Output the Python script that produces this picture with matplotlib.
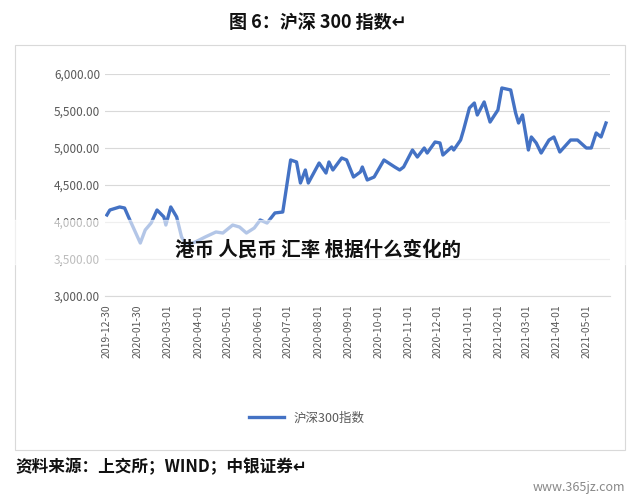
import matplotlib
matplotlib.use("Agg")
import matplotlib.pyplot as plt
import pandas as pd
from matplotlib.patches import Rectangle

plt.rcParams['font.family'] = ['Noto Sans CJK SC', 'DejaVu Sans']

dates = ["2019-12-30", "2020-01-02", "2020-01-12", "2020-01-17", "2020-01-21", "2020-02-02",
         "2020-02-07", "2020-02-13", "2020-02-19", "2020-02-26", "2020-02-28", "2020-03-04",
         "2020-03-10", "2020-03-15", "2020-03-20", "2020-03-29", "2020-04-08", "2020-04-19",
         "2020-04-26", "2020-05-06", "2020-05-13", "2020-05-20", "2020-05-28", "2020-06-03",
         "2020-06-10", "2020-06-18", "2020-06-26", "2020-07-04", "2020-07-10", "2020-07-14",
         "2020-07-19", "2020-07-22", "2020-08-02", "2020-08-09", "2020-08-12", "2020-08-16",
         "2020-08-25", "2020-08-30", "2020-09-06", "2020-09-13", "2020-09-15", "2020-09-20",
         "2020-09-27", "2020-10-07", "2020-10-18", "2020-10-23", "2020-10-27", "2020-11-05",
         "2020-11-10", "2020-11-17", "2020-11-20", "2020-11-28", "2020-12-03", "2020-12-06",
         "2020-12-15", "2020-12-17", "2020-12-24", "2020-12-27", "2021-01-02", "2021-01-07",
         "2021-01-10", "2021-01-17", "2021-01-23", "2021-01-31", "2021-02-04", "2021-02-13",
         "2021-02-18", "2021-02-21", "2021-02-25", "2021-03-03", "2021-03-06", "2021-03-11",
         "2021-03-16", "2021-03-24", "2021-03-29", "2021-04-04", "2021-04-15", "2021-04-22",
         "2021-05-01", "2021-05-06", "2021-05-11", "2021-05-16", "2021-05-21"]
hs300 = [4095, 4162, 4203, 4189, 4068, 3716,
         3892, 3986, 4162, 4068, 3959, 4203,
         4068, 3797, 3690, 3730, 3797, 3865,
         3851, 3959, 3932, 3851, 3919, 4027,
         3986, 4122, 4135, 4838, 4811, 4527,
         4703, 4527, 4797, 4662, 4811, 4703,
         4865, 4838, 4608, 4676, 4743, 4568,
         4608, 4838, 4743, 4703, 4743, 4973,
         4878, 5000, 4932, 5081, 5068, 4905,
         5014, 4973, 5108, 5243, 5541, 5608,
         5446, 5622, 5351, 5514, 5811, 5784,
         5473, 5338, 5446, 4973, 5149, 5068,
         4932, 5108, 5149, 4946, 5108, 5108,
         5000, 5000, 5203, 5149, 5338]
tick_dates = ["2019-12-30", "2020-01-30", "2020-03-01", "2020-04-01", "2020-05-01", "2020-06-01",
              "2020-07-01", "2020-08-01", "2020-09-01", "2020-10-01", "2020-11-01", "2020-12-01",
              "2021-01-01", "2021-02-01", "2021-03-01", "2021-04-01", "2021-05-01"]
y_ticks = [3000, 3500, 4000, 4500, 5000, 5500, 6000]

fig = plt.figure(figsize=(6.36, 5.0), dpi=100)
ax = fig.add_axes([0.165, 0.408, 0.794, 0.444])

x = pd.to_datetime(dates)
ax.plot(x, hs300, color='#4472C4', lw=2.4, label='沪深300指数')

ax.set_ylim(3000, 6000)
ax.set_yticks(y_ticks)
ax.set_yticklabels([f"{v:,.2f}" for v in y_ticks])
ax.set_xlim(pd.Timestamp("2019-12-28"), pd.Timestamp("2021-05-25"))
ax.set_xticks(pd.to_datetime(tick_dates))
ax.set_xticklabels(tick_dates, rotation=90)
ax.tick_params(axis='both', length=0, colors='#595959', labelsize=8.5)
ax.tick_params(axis='x', labelsize=7.5, pad=6)
ax.grid(axis='y', color='#d9d9d9', lw=0.8)
for s in ax.spines.values():
    s.set_visible(False)
ax.spines['bottom'].set_visible(True)
ax.spines['bottom'].set_color('#d9d9d9')

ax.legend(loc='center', bbox_to_anchor=(0.40, -0.55), frameon=False, fontsize=9,
          handlelength=2.8, labelcolor='#595959')

# chart frame
fig.patches.append(Rectangle((15 / 636, 1 - 450 / 500), 610 / 636, 405 / 500,
                             transform=fig.transFigure, fill=False, ec='#d9d9d9', lw=0.8))

fig.text(0.5, 1 - 22 / 500, '图 6：沪深 300 指数↵', ha='center', va='center',
         fontsize=13, fontweight='bold', color='#111111')
fig.text(15 / 636, 1 - 467 / 500, '资料来源：上交所；WIND；中银证券↵', ha='left', va='center',
         fontsize=12, fontweight='bold', color='#111111')

# overlay band + caption
fig.patches.append(Rectangle((0, 1 - 264 / 500), 1, 44 / 500, transform=fig.transFigure,
                             color='white', alpha=0.6, zorder=5))
fig.text(318 / 636, 1 - 250 / 500, '港币 人民币 汇率 根据什么变化的', ha='center', va='center',
         fontsize=14, fontweight='bold', color='#111111', zorder=6)
fig.text(625 / 636, 1 - 488 / 500, 'www.365jz.com', ha='right', va='center',
         fontsize=9, color='#888888')

fig.savefig('out.png', dpi=100)
